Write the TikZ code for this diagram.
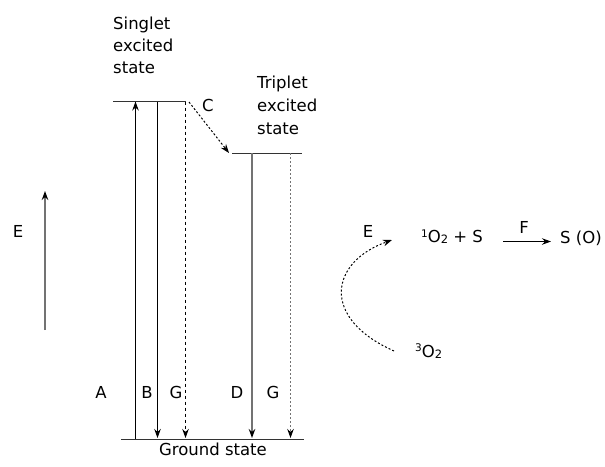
\documentclass[tikz,border=0pt]{standalone}
\usepackage{fontspec}
\setmainfont{DejaVu Sans}
\usetikzlibrary{arrows.meta}
\begin{document}
\begin{tikzpicture}[x=1pt,y=-1pt,
  txt/.style={font=\fontsize{16.5}{18}\selectfont, inner sep=0pt},
  lvl/.style={draw=black!80, line width=1pt},
  tip/.style={-{Stealth[length=9pt,width=6.5pt,color=black]}},
  solidarr/.style={tip, line width=1pt},
  grayarr/.style={tip, line width=1.2pt, draw=black!55},
  dasharr/.style={tip, line width=1pt, dash pattern=on 3.5pt off 2.5pt},
  dotarr/.style={tip, line width=1pt, dash pattern=on 2pt off 2pt}]
\useasboundingbox (0,0) rectangle (605,466);

% levels
\coordinate (s1) at (113,101.5);
\coordinate (s2) at (186,101.5);
\coordinate (t1) at (232,153);
\coordinate (t2) at (302,153);
\coordinate (g1) at (121,439);
\coordinate (g2) at (304,439);
\draw[lvl] (s1) -- (s2);
\draw[lvl] (t1) -- (t2);
\draw[lvl] (g1) -- (g2);

% vertical transitions
\coordinate (aB) at (135.5,439);
\coordinate (aT) at (135.5,101.5);
\coordinate (bT) at (157.5,101.5);
\coordinate (bB) at (157.5,438);
\coordinate (gT) at (185.5,101.5);
\coordinate (gB) at (185.5,438);
\coordinate (dT) at (252,153);
\coordinate (dB) at (252,438);
\coordinate (hT) at (290.5,153);
\coordinate (hB) at (290.5,438);
\draw[solidarr] (aB) -- (aT);
\draw[solidarr] (bT) -- (bB);
\draw[dasharr] (gT) -- (gB);
\draw[grayarr] (dT) -- (dB);
\draw[dotarr, draw=black!55] (hT) -- (hB);

% intersystem crossing C
\coordinate (cS) at (189,102);
\coordinate (cE) at (229,153);
\draw[dotarr] (cS) -- (cE);
\node[txt, anchor=base] (lC) at (208,111) {C};

% labels
\node[txt, anchor=base west] (sg1) at (113,29.5) {Singlet};
\node[txt, anchor=base west] (sg2) at (113,51.5) {excited};
\node[txt, anchor=base west] (sg3) at (113,73.5) {state};
\node[txt, anchor=base west] (tr1) at (257,88) {Triplet};
\node[txt, anchor=base west] (tr2) at (257,111) {excited};
\node[txt, anchor=base west] (tr3) at (257,134.5) {state};
\node[txt, anchor=base] (lA) at (101,398) {A};
\node[txt, anchor=base] (lB) at (147,398) {B};
\node[txt, anchor=base] (lG1) at (176,398) {G};
\node[txt, anchor=base] (lD) at (237,398) {D};
\node[txt, anchor=base] (lG2) at (273,398) {G};
\node[txt, anchor=base] (gs) at (213,455.5) {Ground state};

% energy axis
\coordinate (eB) at (45,330);
\coordinate (eT) at (45,191);
\draw[grayarr] (eB) -- (eT);
\node[txt, anchor=base] (lE1) at (18,237) {E};

% oxygen reactions
\node[txt, anchor=base] (lE2) at (368,237) {E};
\node[txt, anchor=base west] (so) at (421,242.5) {\raisebox{5.5pt}{\fontsize{10.5}{10}\selectfont 1}O\raisebox{-1pt}{\fontsize{11.5}{10}\selectfont 2} + S};
\node[txt, anchor=base west] (tro) at (415,357) {\raisebox{5.5pt}{\fontsize{10.5}{10}\selectfont 3}O\raisebox{-1pt}{\fontsize{11.5}{10}\selectfont 2}};
\node[txt, anchor=base west] (prod) at (560,243) {S (O)};
\coordinate (fS) at (503,241.5);
\coordinate (fE) at (551,241.5);
\draw[solidarr] (fS) -- (fE);
\node[txt, anchor=base] (lF) at (524,233) {F};
\coordinate (cvS) at (394,351);
\coordinate (cvE) at (392,240);
\draw[dotarr] (cvS) .. controls (320,318) and (330,262) .. (cvE);
\end{tikzpicture}
\end{document}
